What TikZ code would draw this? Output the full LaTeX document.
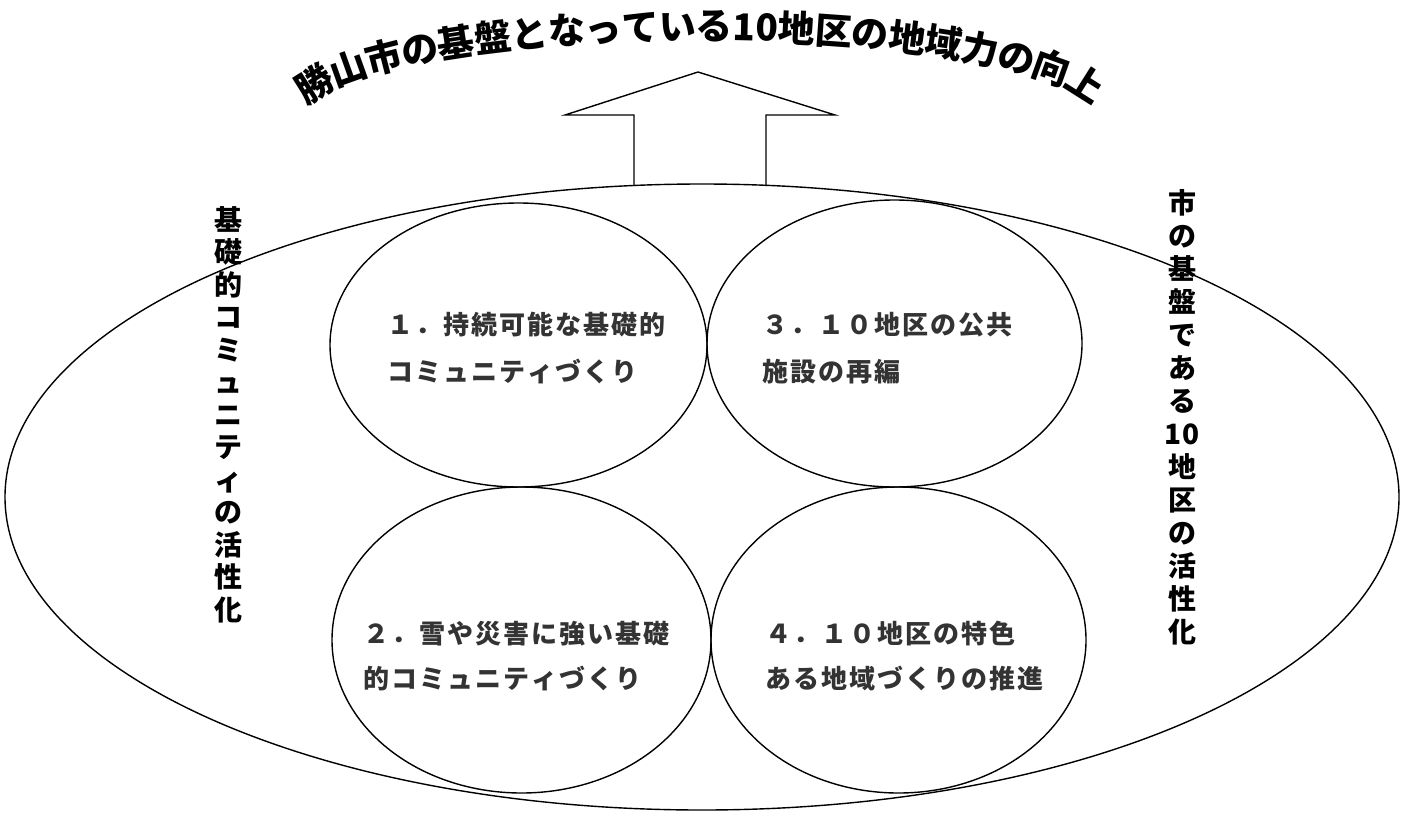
\documentclass[tikz,border=0pt]{standalone}
\usepackage{fontspec}
\newfontfamily\jp{Noto Sans CJK JP}
\usetikzlibrary{shapes.geometric,decorations.text}
\newcommand\spc[1]{\spcA#1\relax}
\def\spcA#1{\ifx\relax#1\else\makebox[28pt][l]{#1}\expandafter\spcA\fi}
\begin{document}
\begin{tikzpicture}[x=1pt,y=-1pt,
  ring/.style={draw, ellipse, line width=1.4pt, inner sep=0pt},
  ctext/.style={anchor=west, inner sep=0pt, text height=21pt, text depth=5pt,
    font=\jp\bfseries\fontsize{26pt}{30pt}\selectfont, text=black!80},
  vlab/.style={inner sep=0pt, text height=22pt, text depth=6pt,
    font=\jp\bfseries\fontsize{28pt}{32pt}\selectfont},
  arrowline/.style={line width=1.4pt, line join=miter}
]
\fill[white] (0,0) rectangle (1405,819);
\useasboundingbox (0,0) rectangle (1405,819);

% outer ellipse
\node[ring, minimum width=1394pt, minimum height=626pt] (outer) at (702,497) {};

% four circles
\node[ring, minimum width=377pt, minimum height=284pt] (c1) at (518.5,345) {};
\node[ring, minimum width=375pt, minimum height=287pt] (c3) at (894.5,343.5) {};
\node[ring, minimum width=379pt, minimum height=306pt] (c2) at (521.5,640) {};
\node[ring, minimum width=375pt, minimum height=306pt] (c4) at (898.5,640) {};

% circle texts
\node[ctext] (t1a) at (387,326) {\spc{１．持続可能な基礎的}};
\node[ctext] (t1b) at (387,373) {\spc{コミュニティづくり}};
\node[ctext] (t3a) at (762,326) {\spc{３．１０地区の公共}};
\node[ctext] (t3b) at (762,373) {\spc{施設の再編}};
\node[ctext] (t2a) at (363,635) {\spc{２．雪や災害に強い基礎}};
\node[ctext] (t2b) at (363,680) {\spc{的コミュニティづくり}};
\node[ctext] (t4a) at (765,635) {\spc{４．１０地区の特色}};
\node[ctext] (t4b) at (765,680) {\spc{ある地域づくりの推進}};

% vertical labels
\foreach \c [count=\i from 0] in {基,礎,的,コ,ミ,ュ,ニ,テ,ィ,の,活,性,化}
  \node[vlab] (L\i) at (228,222+32.5*\i) {\c};
\foreach \c [count=\i from 0] in {市,の,基,盤,で,あ,る,10,地,区,の,活,性,化}
  \node[vlab] (R\i) at (1182,205+33*\i) {\c};

% block arrow
\coordinate (s1) at (634,186);
\coordinate (s2) at (634,115);
\coordinate (h1) at (565,115);
\coordinate (tip) at (698,72);
\coordinate (h2) at (835,115);
\coordinate (s3) at (766,115);
\coordinate (s4) at (766,186);
\draw[arrowline] (s1) -- (s2) -- (h1) -- (tip) -- (h2) -- (s3) -- (s4);

% arched title
\coordinate (tstart) at (295.06,108.55);
\path[decorate, decoration={text along path,
  text={|\jp\bfseries\fontsize{37pt}{40pt}\selectfont|勝山市の基盤となっている10地区の地域力の向上},
  text align=center, raise=-13pt}]
  (tstart) arc[start angle=179, end angle=1, x radius=405pt, y radius=83pt];
\end{tikzpicture}
\end{document}
